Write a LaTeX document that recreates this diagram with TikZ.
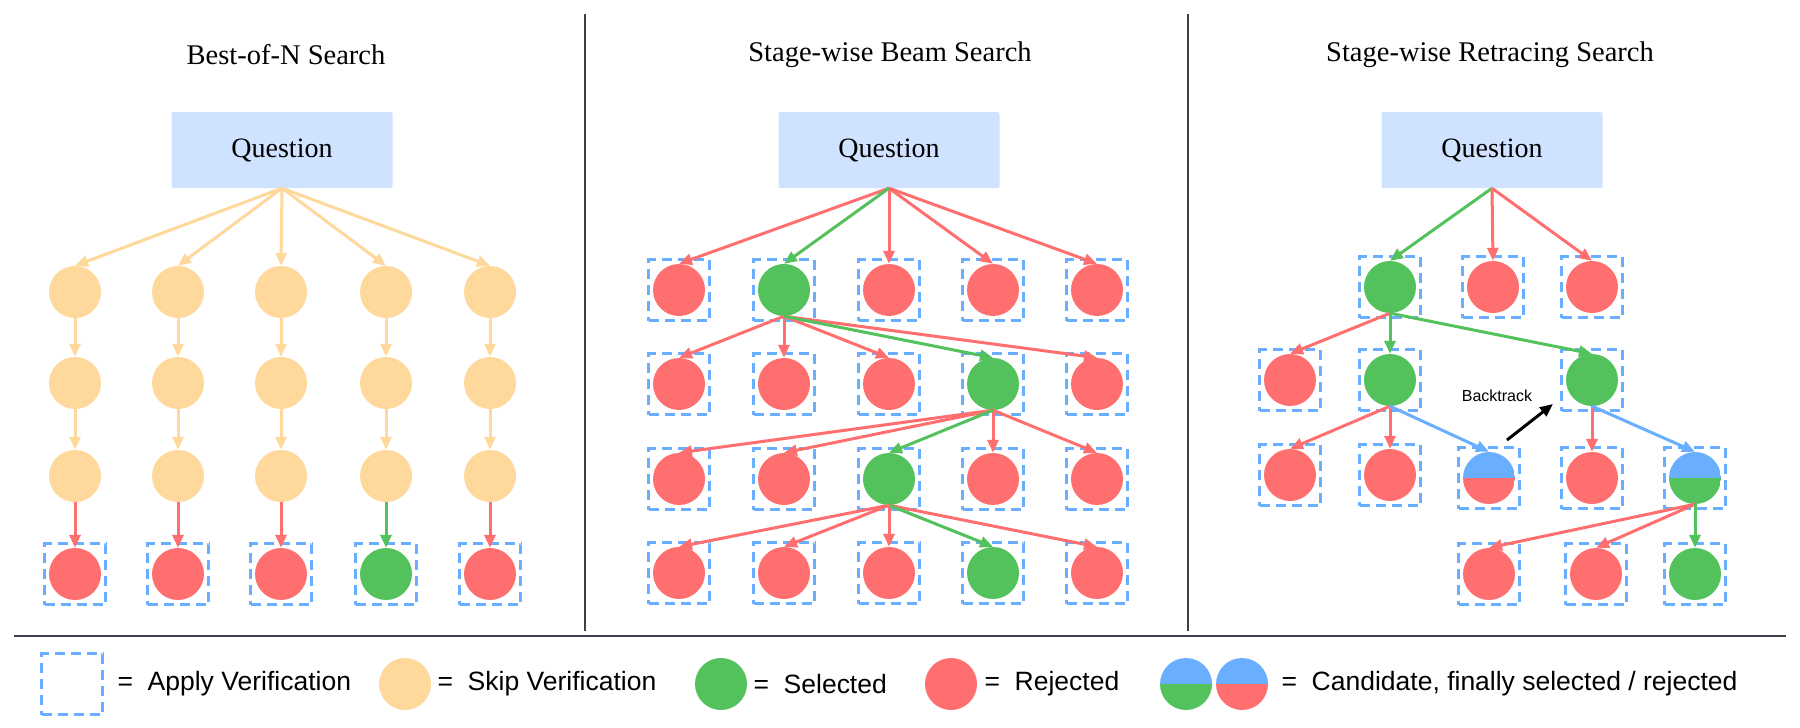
\documentclass[tikz,border=0pt]{standalone}
\usepackage{fontspec}
\setmainfont{Liberation Serif}
\newfontfamily\legendfont{Liberation Sans}
\usetikzlibrary{arrows.meta}
\definecolor{cRed}{HTML}{FF6F6F}
\definecolor{cGreen}{HTML}{53C15C}
\definecolor{cSkip}{HTML}{FFD89C}
\definecolor{cBlue}{HTML}{6AAEFF}
\definecolor{cQ}{HTML}{CFE2FF}
\definecolor{cRule}{HTML}{3A3F4A}
\tikzset{
  dot/.style={circle,inner sep=0pt,minimum size=52pt},
  red/.style={dot,fill=cRed},
  grn/.style={dot,fill=cGreen},
  skp/.style={dot,fill=cSkip},
  half/.style={dot,path picture={
      \fill[#1] (path picture bounding box.south west) rectangle (path picture bounding box.east);
      \fill[cBlue] (path picture bounding box.north west) rectangle (path picture bounding box.east);}},
  ver/.style={draw=cBlue,line width=3.5pt,dash pattern=on 10pt off 6pt,minimum width=61pt,minimum height=61pt,inner sep=0pt},
  q/.style={fill=cQ,minimum width=221pt,minimum height=76pt,rounded corners=2pt,font=\fontsize{28}{32}\selectfont},
  ttl/.style={font=\fontsize{28.5}{32}\selectfont},
  e/.style={line width=3pt,-{Triangle[length=13pt,width=11pt]},draw=#1},
  lgd/.style={font=\legendfont\fontsize{26.5}{30}\selectfont,anchor=west}
}
\newcommand{\vdot}[3]{\node[ver] at (#2) {}; \node[#1] (#3) at (#2) {};}
\begin{document}
\begin{tikzpicture}[x=1pt,y=-1pt]
\useasboundingbox (0,0) rectangle (1800,728);
% frame
\draw[cRule,line width=2.5pt] (585,14) -- (585,631);
\draw[cRule,line width=2.5pt] (1188,14) -- (1188,631);
\draw[cRule,line width=2.5pt] (14,636) -- (1786,636);
% Best-of-N
\node[ttl] at (286,55) {Best-of-N Search};
\node[q] (q1) at (282,150) {Question};
\foreach \i/\x in {1/75,2/178,3/281,4/386,5/490} {
  \node[skp] (a1\i) at (\x,292) {};
  \node[skp] (a2\i) at (\x,383) {};
  \node[skp] (a3\i) at (\x,476) {};
  \draw[e=cSkip] (q1.south) -- (a1\i.north);
  \draw[e=cSkip] (a1\i.south) -- (a2\i.north);
  \draw[e=cSkip] (a2\i.south) -- (a3\i.north);
}
\foreach \i/\x/\s in {1/75/red,2/178/red,3/281/red,4/386/grn,5/490/red} {
  \vdot{\s}{\x,574}{a4\i}
}
\foreach \i in {1,2,3,5} \draw[e=cRed] (a3\i.south) -- (a4\i.north);
\draw[e=cGreen] (a34.south) -- (a44.north);
% Stage-wise Beam
\node[ttl] at (890,55) {Stage-wise Beam Search};
\node[q] (q2) at (889,150) {Question};
\foreach \r/\y/\g in {1/290/2,2/384/4,3/479/3,4/573/4} {
  \foreach \i/\x in {1/679,2/784,3/889,4/993,5/1097} {
    \ifnum\i=\g \vdot{grn}{\x,\y}{b\r\i} \else \vdot{red}{\x,\y}{b\r\i} \fi
  }
}
\foreach \i in {1,3,4,5} \draw[e=cRed] (q2.south) -- (b1\i.north);
\draw[e=cGreen] (q2.south) -- (b12.north);
\foreach \i in {1,2,3,5} \draw[e=cRed] (b12.south) -- (b2\i.north);
\draw[e=cGreen] (b12.south) -- (b24.north);
\foreach \i in {1,2,4,5} \draw[e=cRed] (b24.south) -- (b3\i.north);
\draw[e=cGreen] (b24.south) -- (b33.north);
\foreach \i in {1,2,3,5} \draw[e=cRed] (b33.south) -- (b4\i.north);
\draw[e=cGreen] (b33.south) -- (b44.north);
% Stage-wise Retracing
\node[ttl] at (1490,55) {Stage-wise Retracing Search};
\node[q] (q3) at (1492,150) {Question};
\vdot{grn}{1390,287}{c11}
\vdot{red}{1493,287}{c12}
\vdot{red}{1592,287}{c13}
\vdot{red}{1290,380}{c21}
\vdot{grn}{1390,380}{c22}
\vdot{grn}{1592,380}{c23}
\vdot{red}{1290,475}{c31}
\vdot{red}{1390,475}{c32}
\vdot{half=cRed}{1489,478}{c33}
\vdot{red}{1592,478}{c34}
\vdot{half=cGreen}{1695,478}{c35}
\vdot{red}{1489,574}{c41}
\vdot{red}{1596,574}{c42}
\vdot{grn}{1695,574}{c43}
\draw[e=cGreen] (q3.south) -- (c11.north);
\draw[e=cRed] (q3.south) -- (c12.north);
\draw[e=cRed] (q3.south) -- (c13.north);
\draw[e=cRed] (c11.south) -- (c21.north);
\draw[e=cGreen] (c11.south) -- (c22.north);
\draw[e=cGreen] (c11.south) -- (c23.north);
\draw[e=cRed] (c22.south) -- (c31.north);
\draw[e=cRed] (c22.south) -- (c32.north);
\draw[e=cBlue] (c22.south) -- (c33.north);
\draw[e=cRed] (c23.south) -- (c34.north);
\draw[e=cBlue] (c23.south) -- (c35.north);
\draw[e=cRed] (c35.south) -- (c41.north);
\draw[e=cRed] (c35.south) -- (c42.north);
\draw[e=cGreen] (c35.south) -- (c43.north);
\node[font=\legendfont\fontsize{16}{19}\selectfont] (bt) at (1497,396) {Backtrack};
\coordinate (bt0) at (1507,440);
\coordinate (bt1) at (1553,404);
\draw[line width=3pt,-{Triangle[length=13pt,width=11pt]}] (bt0) -- (bt1);
% legend
\node[ver] (l1) at (72,684) {};
\node[lgd] at (114,684) {=\ \ Apply Verification};
\node[skp] (l2) at (405,684) {};
\node[lgd] at (434,684) {=\ \ Skip Verification};
\node[grn] (l3) at (721,684) {};
\node[lgd] at (750,684) {=\ \ Selected};
\node[red] (l4) at (951,684) {};
\node[lgd] at (981,684) {=\ \ Rejected};
\node[half=cGreen] (l5) at (1186,684) {};
\node[half=cRed] (l6) at (1242,684) {};
\node[lgd] at (1278,684) {=\ \ Candidate, finally selected / rejected};
\end{tikzpicture}
\end{document}
